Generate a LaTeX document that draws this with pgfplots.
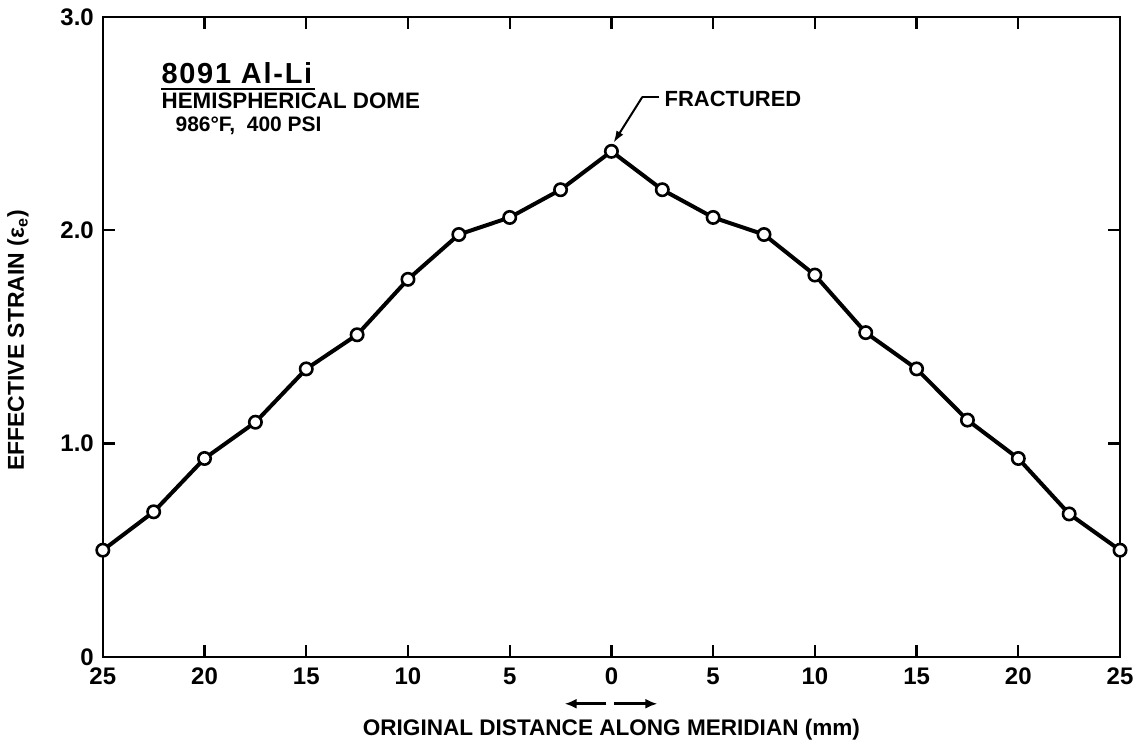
\documentclass[border=0pt]{standalone}
\usepackage{fontspec}
\setmainfont{Liberation Sans}
\usepackage{pgfplots}
\pgfplotsset{compat=1.18}
\usetikzlibrary{arrows.meta}

\begin{document}
\begin{tikzpicture}
\begin{axis}[
    scale only axis,
    width=509.5pt, height=320.5pt,
    xmin=-25, xmax=25, ymin=0, ymax=3,
    axis line style={line width=1.3pt},
    every tick/.style={line width=1.1pt, black},
    major tick length=6pt,
    tick align=inside,
    xtick={-25,-20,...,25},
    xticklabels={25,20,15,10,5,0,5,10,15,20,25},
    ytick={0,1,2,3},
    yticklabels={0,1.0,2.0,3.0},
    /pgf/number format/assume math mode=true,
    tick label style={font=\bfseries\fontsize{12}{14}\selectfont},
    xticklabel style={yshift=-2pt},
    yticklabel style={xshift=-1pt},
    xlabel={ORIGINAL DISTANCE ALONG MERIDIAN (mm)},
    xlabel style={font=\bfseries\fontsize{11.3}{13}\selectfont,
        at={(axis description cs:0.5,-0.114)}, anchor=center},
    ylabel={EFFECTIVE STRAIN (ε\textsubscript{e})},
    ylabel style={font=\bfseries\fontsize{11.5}{13}\selectfont,
        at={(axis description cs:-0.0834,0.4945)}, anchor=center},
    clip=false,
]
\addplot[black, line width=2pt, mark=*,
    mark options={fill=white, draw=black, line width=1.3pt, mark size=3.1pt}]
    coordinates {
    (-25,0.50) (-22.5,0.68) (-20,0.93) (-17.5,1.10) (-15,1.35)
    (-12.5,1.51) (-10,1.77) (-7.5,1.98) (-5,2.06) (-2.5,2.19)
    (0,2.37)
    (2.5,2.19) (5,2.06) (7.5,1.98) (10,1.79) (12.5,1.52)
    (15,1.35) (17.5,1.11) (20,0.93) (22.5,0.67) (25,0.50)
    };

% title block
\node[anchor=base west, inner sep=0pt, font=\bfseries\fontsize{14.5}{16}\selectfont\addfontfeature{LetterSpace=6}]
    at (axis cs:-22.13,2.69) {8091 Al-Li};
\draw[line width=1pt] (axis cs:-22.13,2.663) -- (axis cs:-14.57,2.663);
\node[anchor=base west, inner sep=0pt, font=\bfseries\fontsize{11.2}{13}\selectfont]
    at (axis cs:-22.13,2.569) {HEMISPHERICAL DOME};
\node[anchor=base west, inner sep=0pt, font=\bfseries\fontsize{10.5}{12}\selectfont]
    at (axis cs:-21.44,2.461) {986°F,\ \ 400 PSI};

% fracture note
\draw[line width=1pt] (axis cs:2.36,2.625) -- (axis cs:1.52,2.625);
\draw[line width=1pt, -{Latex[length=6pt,width=4pt]}] (axis cs:1.52,2.625) -- (axis cs:0.1,2.41);
\node[anchor=west, inner sep=0pt, font=\bfseries\fontsize{11}{13}\selectfont]
    at (axis cs:2.6,2.615) {FRACTURED};

% direction arrows under the centre
\draw[line width=1.3pt, -{Latex[length=6pt,width=5pt]}] (axis cs:-0.25,-0.22) -- (axis cs:-2.3,-0.22);
\draw[line width=1.3pt, -{Latex[length=6pt,width=5pt]}] (axis cs:0.15,-0.22) -- (axis cs:2.26,-0.22);
\end{axis}
\path (current axis.south west) ++(-51.5pt,-45.5pt) coordinate (bbl);
\path (current axis.north east) ++(9pt,8.5pt) coordinate (btr);
\useasboundingbox (bbl) rectangle (btr);
\end{tikzpicture}
\end{document}
